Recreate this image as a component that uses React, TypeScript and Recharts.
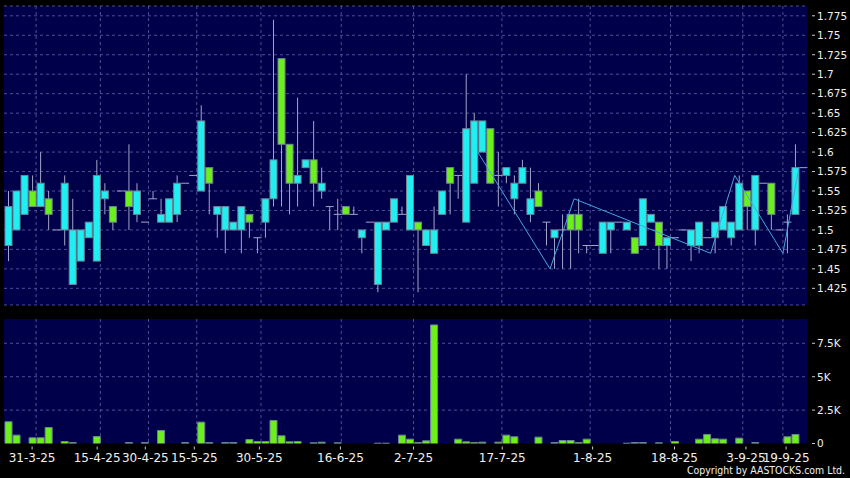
import React from "react";
import { ComposedChart, BarChart, Bar, Line, XAxis, YAxis, CartesianGrid } from "recharts";

// daily OHLC, one slot per trading day
const opens = [
  1.48, 1.5, 1.52, 1.55, 1.53, 1.54, 1.5, 1.5, 1.43, 1.46,
  1.49, 1.46, 1.54, 1.53, 1.55, 1.55, 1.52, 1.51, 1.54, 1.51,
  1.51, 1.52, 1.56, 1.57, 1.55, 1.58, 1.52, 1.5, 1.5, 1.5,
  1.52, 1.49, 1.51, 1.54, 1.72, 1.61, 1.56, 1.58, 1.59, 1.55,
  1.53, 1.52, 1.53, 1.52, 1.49, 1.51, 1.43, 1.5, 1.51, 1.52,
  1.5, 1.51, 1.48, 1.47, 1.52, 1.58, 1.57, 1.51, 1.56, 1.6,
  1.63, 1.57, 1.57, 1.54, 1.56, 1.52, 1.55, 1.51, 1.49, 1.5,
  1.52, 1.52, 1.48, 1.48, 1.47, 1.5, 1.51, 1.5, 1.49, 1.48,
  1.51, 1.51, 1.48, 1.49, 1.5, 1.48, 1.48, 1.49, 1.49, 1.5,
  1.49, 1.5, 1.55, 1.5, 1.56, 1.56, 1.5, 1.51, 1.52, 1.58,
];
const highs = [
  1.55, 1.55, 1.57, 1.57, 1.6, 1.55, 1.5, 1.57, 1.54, 1.5,
  1.51, 1.59, 1.56, 1.53, 1.55, 1.61, 1.56, 1.51, 1.55, 1.54,
  1.54, 1.57, 1.56, 1.57, 1.66, 1.58, 1.53, 1.53, 1.51, 1.53,
  1.52, 1.49, 1.54, 1.77, 1.72, 1.61, 1.67, 1.59, 1.64, 1.58,
  1.53, 1.54, 1.53, 1.53, 1.5, 1.51, 1.51, 1.51, 1.54, 1.53,
  1.57, 1.51, 1.5, 1.53, 1.55, 1.58, 1.57, 1.7, 1.65, 1.64,
  1.63, 1.6, 1.58, 1.57, 1.59, 1.58, 1.56, 1.51, 1.5, 1.52,
  1.52, 1.54, 1.48, 1.48, 1.51, 1.51, 1.51, 1.51, 1.49, 1.54,
  1.52, 1.51, 1.49, 1.49, 1.5, 1.5, 1.51, 1.49, 1.51, 1.53,
  1.51, 1.57, 1.55, 1.57, 1.56, 1.56, 1.5, 1.52, 1.61, 1.58,
];
const lows = [
  1.46, 1.5, 1.52, 1.53, 1.53, 1.5, 1.5, 1.48, 1.43, 1.46,
  1.49, 1.46, 1.52, 1.5, 1.55, 1.5, 1.51, 1.51, 1.54, 1.51,
  1.51, 1.51, 1.56, 1.57, 1.55, 1.52, 1.49, 1.47, 1.5, 1.47,
  1.49, 1.47, 1.49, 1.53, 1.53, 1.52, 1.53, 1.58, 1.53, 1.54,
  1.5, 1.5, 1.52, 1.52, 1.47, 1.51, 1.42, 1.5, 1.51, 1.52,
  1.5, 1.42, 1.48, 1.47, 1.52, 1.52, 1.54, 1.51, 1.56, 1.6,
  1.56, 1.53, 1.56, 1.52, 1.56, 1.51, 1.53, 1.48, 1.45, 1.45,
  1.45, 1.47, 1.47, 1.48, 1.47, 1.47, 1.51, 1.5, 1.47, 1.48,
  1.51, 1.45, 1.45, 1.49, 1.5, 1.46, 1.47, 1.49, 1.47, 1.5,
  1.48, 1.5, 1.5, 1.48, 1.56, 1.5, 1.5, 1.47, 1.52, 1.58,
];
const closes = [
  1.53, 1.55, 1.57, 1.53, 1.56, 1.52, 1.5, 1.56, 1.5, 1.5,
  1.51, 1.57, 1.55, 1.51, 1.55, 1.53, 1.55, 1.51, 1.54, 1.52,
  1.54, 1.56, 1.56, 1.57, 1.64, 1.56, 1.53, 1.53, 1.51, 1.53,
  1.51, 1.49, 1.54, 1.59, 1.61, 1.56, 1.57, 1.59, 1.56, 1.56,
  1.53, 1.52, 1.52, 1.52, 1.5, 1.51, 1.51, 1.51, 1.54, 1.52,
  1.57, 1.5, 1.5, 1.5, 1.55, 1.56, 1.57, 1.63, 1.64, 1.64,
  1.56, 1.57, 1.58, 1.56, 1.58, 1.54, 1.53, 1.51, 1.5, 1.5,
  1.5, 1.5, 1.48, 1.48, 1.51, 1.51, 1.51, 1.51, 1.47, 1.54,
  1.52, 1.48, 1.49, 1.49, 1.5, 1.5, 1.51, 1.49, 1.51, 1.53,
  1.51, 1.56, 1.53, 1.57, 1.56, 1.52, 1.5, 1.51, 1.58, 1.58,
];
const volumes = [
  1625, 625, 0, 425, 425, 1200, 0, 150, 75, 0,
  0, 525, 0, 0, 0, 75, 0, 75, 0, 975,
  0, 0, 75, 0, 1600, 75, 0, 75, 75, 0,
  300, 150, 150, 1725, 575, 125, 150, 0, 50, 100,
  0, 50, 0, 0, 0, 0, 25, 25, 0, 625,
  325, 75, 200, 8875, 0, 0, 325, 125, 75, 100,
  0, 100, 625, 500, 0, 0, 475, 0, 75, 225,
  225, 75, 325, 0, 0, 0, 0, 25, 75, 75,
  0, 50, 0, 150, 0, 0, 325, 675, 350, 325,
  0, 400, 0, 75, 0, 0, 0, 500, 675, 0,
];

// zigzag overlay (slot boundary position, price)
const zigzagPos = [59, 68, 71, 88, 91, 97, 99];
const zigzagPrice = [1.6, 1.45, 1.54, 1.47, 1.57, 1.47, 1.58];

const dateLabels = ["31-3-25", "15-4-25", "30-4-25", "15-5-25", "30-5-25", "16-6-25", "2-7-25", "17-7-25", "1-8-25", "18-8-25", "3-9-25", "19-9-25"];
const dateTickPos = [3.5, 11.6, 17.6, 23.7, 31.8, 41.9, 51.0, 62.05, 73.3, 83.5, 92.4, 97.4];
const gridPos = [4, 12, 18, 24, 32, 42, 51, 62, 73, 83, 92, 97];
const priceTicks = [1.425, 1.45, 1.475, 1.5, 1.525, 1.55, 1.575, 1.6, 1.625, 1.65, 1.675, 1.7, 1.725, 1.75, 1.775];
const volumeTicks = [0, 2500, 5000, 7500];
const volumeLabels = ["0", "2.5K", "5K", "7.5K"];

const data = opens.map((o, i) => ({
  k: i,
  o,
  h: highs[i],
  l: lows[i],
  c: closes[i],
  vol: volumes[i],
}));
const zigzag = zigzagPos.map((pos, i) => ({ pos, price: zigzagPrice[i] }));

const CYAN = "#20eef0";
const GREEN = "#6cf01c";
const WICK = "#a4a4c8";
const EDGE = "#6e8494";
const NAVY = "#00004a";
const GRID = "#4e4e94";
const FONT = "DejaVu Sans";

const Candle = (props: any) => {
  const { x, y, width, height, payload } = props;
  const { o, h, l, c } = payload;
  const cx = x + width / 2;
  if (h === l) {
    return <line x1={x - 0.5} x2={x + width + 0.5} y1={y} y2={y} stroke={WICK} />;
  }
  const ratio = height / (h - l);
  const yOf = (v: number) => y + (h - v) * ratio;
  const wick = <line x1={cx} x2={cx} y1={y} y2={y + height} stroke={WICK} />;
  if (o === c) {
    return (
      <g>
        {wick}
        <line x1={x - 0.5} x2={x + width + 0.5} y1={yOf(o)} y2={yOf(o)} stroke={WICK} />
      </g>
    );
  }
  const top = yOf(Math.max(o, c));
  const bot = yOf(Math.min(o, c));
  return (
    <g>
      {wick}
      <rect x={x} y={top} width={width} height={bot - top} fill={c > o ? CYAN : GREEN} stroke={EDGE} />
    </g>
  );
};

const PriceTick = ({ x, y, payload }: any) => (
  <g>
    <line x1={x + 5} x2={x + 8} y1={y} y2={y} stroke="#c8c8c8" />
    <text x={x + 10} y={y + 3.8} fill="#f0f0f0" fontSize={10.5} fontFamily={FONT}>
      {String(Number(payload.value.toFixed(3)))}
    </text>
  </g>
);

const VolumeTick = ({ x, y, index }: any) => (
  <g>
    <line x1={x + 5} x2={x + 8} y1={y} y2={y} stroke="#c8c8c8" />
    <text x={x + 10} y={y + 3.8} fill="#f0f0f0" fontSize={10.5} fontFamily={FONT}>
      {volumeLabels[index]}
    </text>
  </g>
);

const DateTick = ({ x, y, index }: any) => (
  <g>
    <line x1={x} x2={x} y1={y + 3} y2={y + 6} stroke="#c8c8c8" />
    <text x={x} y={y + 18.5} textAnchor="middle" fill="#f0f0f0" fontSize={12} fontFamily={FONT}>
      {dateLabels[index]}
    </text>
  </g>
);

export default function App() {
  return (
    <div style={{ position: "relative", width: 850, height: 478, background: "#000", overflow: "hidden" }}>
      <style>{"body{margin:0}"}</style>
      <div style={{ position: "absolute", left: 0, top: 0 }}>
        <ComposedChart width={850} height={312} data={data} margin={{ top: 6, right: 0, bottom: 7, left: 4 }}>
          <CartesianGrid
            xAxisId="num"
            yAxisId="price"
            fill={NAVY}
            stroke={GRID}
            strokeDasharray="3 3"
            verticalValues={gridPos}
          />
          <XAxis xAxisId="cat" dataKey="k" type="category" orientation="top" hide />
          <XAxis xAxisId="num" dataKey="pos" type="number" domain={[0, 100]} allowDataOverflow hide />
          <YAxis
            yAxisId="price"
            orientation="right"
            width={43}
            domain={[1.4036, 1.7876]}
            allowDataOverflow
            ticks={priceTicks}
            interval={0}
            axisLine={false}
            tickLine={false}
            tickSize={0}
            tickMargin={0}
            tick={<PriceTick />}
          />
          <Bar
            xAxisId="cat"
            yAxisId="price"
            dataKey={(d: any) => [d.l, d.h]}
            barSize={7}
            shape={<Candle />}
            isAnimationActive={false}
          />
          <Line
            xAxisId="num"
            yAxisId="price"
            data={zigzag}
            dataKey="price"
            stroke="#45a5e0"
            strokeWidth={1}
            dot={false}
            activeDot={false}
            isAnimationActive={false}
          />
        </ComposedChart>
      </div>
      <div style={{ position: "absolute", left: 0, top: 312 }}>
        <BarChart width={850} height={166} data={data} margin={{ top: 7, right: 0, bottom: 0, left: 4 }}>
          <CartesianGrid
            xAxisId="num"
            yAxisId="vol"
            fill={NAVY}
            stroke={GRID}
            strokeDasharray="3 3"
            horizontalValues={[2500, 5000, 7500]}
            verticalValues={gridPos}
          />
          <XAxis xAxisId="cat" dataKey="k" type="category" orientation="top" hide />
          <XAxis
            xAxisId="num"
            dataKey="pos"
            type="number"
            domain={[0, 100]}
            allowDataOverflow
            ticks={dateTickPos}
            interval={0}
            height={34.5}
            axisLine={false}
            tickLine={false}
            tickSize={0}
            tickMargin={0}
            tick={<DateTick />}
          />
          <YAxis
            yAxisId="vol"
            orientation="right"
            width={43}
            domain={[0, 9320]}
            allowDataOverflow
            ticks={volumeTicks}
            interval={0}
            axisLine={false}
            tickLine={false}
            tickSize={0}
            tickMargin={0}
            tick={<VolumeTick />}
          />
          <Bar
            xAxisId="cat"
            yAxisId="vol"
            dataKey="vol"
            barSize={7}
            fill={GREEN}
            stroke={EDGE}
            isAnimationActive={false}
          />
        </BarChart>
      </div>
      <svg style={{ position: "absolute", left: 0, top: 0 }} width={850} height={478} pointerEvents="none">
        <text x={845} y={474} textAnchor="end" fill="#f0f0f0" fontSize={11} fontFamily={FONT} textLength={158} lengthAdjust="spacingAndGlyphs">
          Copyright by AASTOCKS.com Ltd.
        </text>
      </svg>
    </div>
  );
}
